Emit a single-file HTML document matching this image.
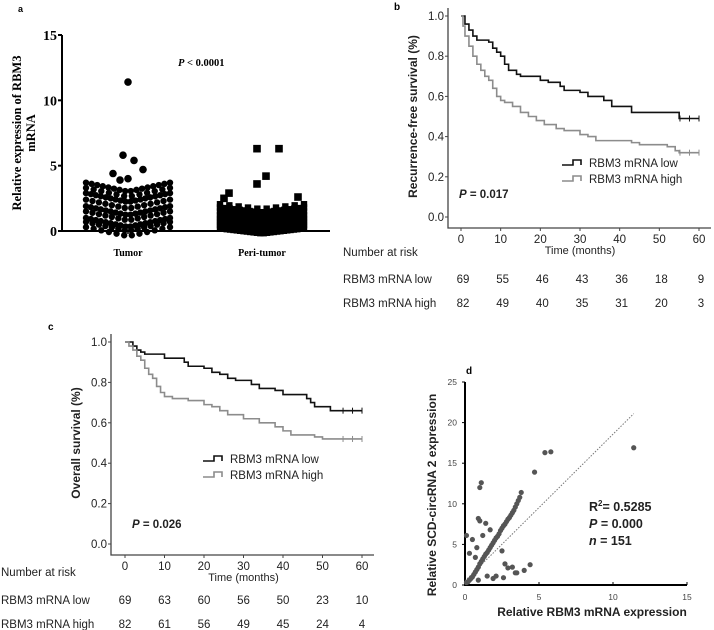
<!DOCTYPE html>
<html><head><meta charset="utf-8">
<style>
html,body{margin:0;padding:0;background:#fff;}
svg{display:block;font-family:"Liberation Sans",sans-serif;}
.sf{font-family:"Liberation Serif",serif;font-weight:bold;}
.b{font-weight:bold;}
</style></head>
<body>
<svg id="fig" width="714" height="630" viewBox="0 0 714 630">
<g id="pa"></g>
<g id="pb"></g>
<g id="pc"></g>
<g id="pd"></g>
</svg>
<script>
// ---------- Panel a data ----------
const aTicks=[0,5,10,15];
const aCategories=["Tumor","Peri-tumor"];
const tumorLevels=[0.3,0.7,1.0,1.5,1.9,2.4,2.9,3.3,3.7];
const tumorCounts=[12,14,18,14,18,14,18,12,16];
const tumorOutliers=[3.9,4.0,4.4,4.7,5.4,5.8,11.4];
const periLevels=[0.2,0.45,0.7,0.95,1.2,1.5,1.8,2.05];
const periCounts=[26,28,30,30,26,22,18,10];
const periOutliers=[2.5,2.6,2.9,3.6,4.2,6.3,6.3];
// ---------- Panel b data ----------
const bTimeTicks=[0,10,20,30,40,50,60];
const bSurvTicks=[0,0.2,0.4,0.6,0.8,1.0];
const rfsLowT=[0,1,2,3,4,7,8,9,10,11,12,14,15,20,22,25,26,30,32,36,38,43,55,60];
const rfsLowS=[1,0.96,0.93,0.9,0.88,0.87,0.84,0.82,0.8,0.76,0.73,0.71,0.7,0.68,0.67,0.65,0.63,0.62,0.6,0.58,0.55,0.52,0.49,0.49];
const rfsHighT=[0,0.5,1,2,3,4,5,6,7,8,9,10,11,13,15,17,19,21,24,26,30,32,34,43,45,52,54,55,60];
const rfsHighS=[1,0.95,0.9,0.85,0.8,0.76,0.73,0.7,0.68,0.64,0.6,0.58,0.57,0.55,0.52,0.5,0.48,0.46,0.44,0.43,0.41,0.4,0.38,0.37,0.36,0.35,0.33,0.32,0.32];
const bRiskLow=[69,55,46,43,36,18,9];
const bRiskHigh=[82,49,40,35,31,20,3];
// ---------- Panel c data ----------
const osLowT=[0,2,3,4,5,10,15,16,20,22,24,26,28,32,34,38,40,46,47,48,52,60];
const osLowS=[1,0.98,0.96,0.95,0.94,0.92,0.9,0.88,0.87,0.85,0.84,0.82,0.81,0.79,0.77,0.76,0.74,0.72,0.7,0.68,0.66,0.66];
const osHighT=[0,1,2,3,4,5,6,7,8,9,10,12,16,20,22,24,26,30,34,38,40,42,48,50,60];
const osHighS=[1,0.98,0.96,0.93,0.91,0.87,0.84,0.82,0.78,0.75,0.73,0.72,0.71,0.69,0.68,0.66,0.64,0.62,0.6,0.58,0.56,0.54,0.53,0.52,0.52];
const cRiskLow=[69,63,60,56,50,23,10];
const cRiskHigh=[82,61,56,49,45,24,4];
// ---------- Panel d data ----------
const dXTicks=[0,5,10,15];
const dYTicks=[0,5,10,15,20,25];
const scX=[0.1,0.2,0.3,0.4,0.5,0.6,0.7,0.8,0.9,1.0,1.1,1.2,1.3,1.4,1.5,1.6,1.7,1.8,1.9,2.0,2.1,2.2,2.3,2.4,2.5,2.6,2.7,2.8,2.9,3.0,3.1,3.2,3.3,3.4,3.5,3.6,3.7,3.8,
 0.1,0.3,0.5,0.7,0.8,0.9,1.0,1.2,1.5,1.0,1.1,1.4,0.9,1.7,1.9,2.1,2.5,2.7,2.9,3.2,3.4,3.5,4.0,4.4,2.6,4.7,5.4,5.8,11.4];
const scY=[0.3,0.4,0.6,0.8,1.0,1.3,1.6,1.9,2.2,2.6,2.9,3.2,3.5,3.8,4.0,4.3,4.6,4.9,5.2,5.5,5.8,6.0,6.3,6.7,7.0,7.3,7.5,7.8,8.1,8.3,8.6,8.9,9.2,9.6,10.0,10.4,10.8,11.4,
 6.1,3.9,5.6,3.4,4.6,8.2,7.9,6.1,1.1,12.0,12.6,7.6,0.6,6.8,0.8,1.1,4.2,2.6,2.1,2.2,1.5,1.5,1.8,2.5,0.9,13.9,16.3,16.4,16.9];
const fitX=[0,11.4];
const fitY=[0.5,21.1];

const NS="http://www.w3.org/2000/svg";
function mk(parent,tag,attrs,text){const e=document.createElementNS(NS,tag);for(const k in attrs)e.setAttribute(k,attrs[k]);if(text!==undefined)e.textContent=text;parent.appendChild(e);return e;}

// ================= Panel A =================
(function(){
 const g=document.getElementById('pa');
 const x0=62,x1=330,yb=231,yt=35;
 const ys=v=>yb-(v-0)/(15-0)*(yb-yt);
 const catX=[128,262];
 let t=mk(g,'text',{x:18,y:12,'font-size':9,class:'b'},'a');
 
 
 let ax=mk(g,'path',{d:`M${x0} ${yt}V${yb}H${x1}`,stroke:'#000','stroke-width':2,fill:'none'});
 
 
 aTicks.forEach(v=>{
  mk(g,'line',{x1:x0-4,x2:x0,y1:ys(v),y2:ys(v),stroke:'#000','stroke-width':2});
  const l=mk(g,'text',{x:x0-5,y:ys(v)+5,'text-anchor':'end','font-size':14,class:'sf'},v);
  
  
 });
 catX.forEach((cx,i)=>{
  mk(g,'line',{x1:cx,x2:cx,y1:yb,y2:yb+3,stroke:'#000','stroke-width':1.5});
  const l=mk(g,'text',{x:cx,y:256,'text-anchor':'middle','font-size':10,class:'sf'},aCategories[i]);
  
  
 });
 const yt1=mk(g,'text',{transform:'translate(21,133) rotate(-90)','text-anchor':'middle','font-size':12.5,class:'sf'},'Relative expression of RBM3');
 
 
 const yt2=mk(g,'text',{transform:'translate(35,133) rotate(-90)','text-anchor':'middle','font-size':12.5,class:'sf'},'mRNA');
 
 
 const p=mk(g,'text',{x:178,y:66,'font-size':10.5,class:'sf'});
 
 
 mk(p,'tspan',{'font-style':'italic'},'P');mk(p,'tspan',{},' < 0.0001');
 function swarm(cx,levels,counts,shape,dip){
  levels.forEach((lv,li)=>{
   const n=counts[li],half=(n-1)/2;
   for(let i=0;i<n;i++){
    const off=(i-half)/half;
    const px=cx+off*42;
    const py=ys(lv)+ (1-Math.abs(off))*dip;
    let m;
    if(shape==='c') m=mk(g,'circle',{cx:px,cy:py,r:3.2,fill:'#000'});
    else m=mk(g,'rect',{x:px-3.2,y:py-3.2,width:6.4,height:6.4,fill:'#000'});
    
    
   }
  });
 }
 swarm(catX[0],tumorLevels,tumorCounts,'c',9);
 swarm(catX[1],periLevels,periCounts,'s',5);
 const tox=[-8,0,-15,15,6,-5,0];
 tumorOutliers.forEach((v,i)=>{const m=mk(g,'circle',{cx:catX[0]+tox[i%tox.length],cy:ys(v),r:3.8,fill:'#000'});
  
  });
 const pox=[-38,36,-33,-5,4,-5,17];
 periOutliers.forEach((v,i)=>{const px=catX[1]+pox[i];const m=mk(g,'rect',{x:px-3.8,y:ys(v)-3.8,width:7.6,height:7.6,fill:'#000'});
  
  });
})();

// ================= KM helper =================
function km(gid,o){
 const g=document.getElementById(gid);
 const xs=t=>o.x0+t/60*(o.x60-o.x0);
 const ys=s=>o.y0-s*(o.y0-o.y1);
 let l=mk(g,'text',{x:o.lx,y:o.ly,'font-size':10,class:'b'},o.letter);
 
 
 const ax=mk(g,'path',{d:`M${o.ax} ${o.y1-8}V${o.axy}H${o.x60+12}`,stroke:'#444','stroke-width':1.3,fill:'none'});
 
 
 bSurvTicks.forEach(v=>{
  mk(g,'line',{x1:o.ax-3,x2:o.ax,y1:ys(v),y2:ys(v),stroke:'#444'});
  const t=mk(g,'text',{x:o.ax-4,y:ys(v)+4,'text-anchor':'end','font-size':11.5,fill:'#222'},v.toFixed(1));
  
  
 });
 bTimeTicks.forEach(v=>{
  mk(g,'line',{x1:xs(v),x2:xs(v),y1:o.axy,y2:o.axy+3,stroke:'#444'});
  const t=mk(g,'text',{x:xs(v),y:o.axy+15,'text-anchor':'middle','font-size':11.5,fill:'#222'},v);
  
  
 });
 const xt=mk(g,'text',{x:xs(30),y:o.axy+26,'text-anchor':'middle','font-size':11,fill:'#222'},'Time (months)');
 
 
 const yt=mk(g,'text',{transform:`translate(${o.ax-31},${(o.y0+o.y1)/2}) rotate(-90)`,'text-anchor':'middle','font-size':12,class:'b',fill:'#222'},o.ytitle);
 
 
 function step(T,S,col,name){
  let d=`M${xs(T[0])} ${ys(S[0])}`;
  for(let i=1;i<T.length;i++){d+=`H${xs(T[i])}V${ys(S[i])}`;}
  const p=mk(g,'path',{d,stroke:col,'stroke-width':1.6,fill:'none'});
  
  
  const last=T.length-1;
  [0.92,0.96,1].forEach(f=>{const tx=T[last]*f;mk(g,'line',{x1:xs(tx),x2:xs(tx),y1:ys(S[last])-3,y2:ys(S[last])+3,stroke:col});});
 }
 step(o.lowT,o.lowS,'#111','curve-low');
 step(o.highT,o.highS,'#8c8c8c','curve-high');
 [['#111','RBM3 mRNA low',o.legY],['#8c8c8c','RBM3 mRNA high',o.legY+16]].forEach(([c,txt,y])=>{
  const lg=mk(g,'g',{});
  
  
  mk(lg,'path',{d:`M${o.legX} ${y+2}H${o.legX+11}V${y-3}H${o.legX+19}V${y+2}`,stroke:c,'stroke-width':1.6,fill:'none'});
  mk(lg,'text',{x:o.legX+27,y:y+4,'font-size':11.5,fill:'#222'},txt);
 });
 const p=mk(g,'text',{x:o.px,y:o.py,'font-size':11.5,class:'b',fill:'#222'});
 
 
 mk(p,'tspan',{'font-style':'italic'},'P');mk(p,'tspan',{},' = '+o.pval);
 const h=mk(g,'text',{x:o.rlx,y:o.rY0,'font-size':11.5,fill:'#222'},'Number at risk');
 
 
 [['RBM3 mRNA low',o.riskLow,o.rY1],['RBM3 mRNA high',o.riskHigh,o.rY2]].forEach(([lab,arr,y])=>{
  const r=mk(g,'text',{x:o.rlx,y,'font-size':11.5,fill:'#222'},lab);
  
  
  arr.forEach((n,i)=>{const t=mk(g,'text',{x:xs(bTimeTicks[i])+o.rOff,y,'text-anchor':'middle','font-size':11.5,fill:'#222'},n);
   
   });
 });
}
km('pb',{letter:'b',lx:394,ly:10,ax:448,axy:228,x0:461,x60:699,y0:217,y1:16,ytitle:'Recurrence-free survival (%)',
 lowT:rfsLowT,lowS:rfsLowS,highT:rfsHighT,highS:rfsHighS,legX:562,legY:163,px:459,py:198,pval:'0.017',
 rlx:343,rY0:256,rY1:283,rY2:307,riskLow:bRiskLow,riskHigh:bRiskHigh,rOff:2});
km('pc',{letter:'c',lx:48,ly:330,ax:111,axy:555,x0:125,x60:362,y0:544,y1:342,ytitle:'Overall survival  (%)',
 lowT:osLowT,lowS:osLowS,highT:osHighT,highS:osHighS,legX:203,legY:459,px:132,py:528,pval:'0.026',
 rlx:1,rY0:576,rY1:604,rY2:628,riskLow:cRiskLow,riskHigh:cRiskHigh,rOff:0});

// ================= Panel D =================
(function(){
 const g=document.getElementById('pd');
 const x0=465,x15=687,y0=585,y25=382;
 const xs=v=>x0+v/15*(x15-x0);
 const ys=v=>y0-v/25*(y0-y25);
 let l=mk(g,'text',{x:466,y:374,'font-size':10,class:'b'},'d');
 
 
 const ax=mk(g,'path',{d:`M${x0} ${y25}V${y0}H${x15}`,stroke:'#000','stroke-width':2,fill:'none'});
 
 
 dYTicks.forEach(v=>{mk(g,'line',{x1:x0-3,x2:x0,y1:ys(v),y2:ys(v),stroke:'#000'});
  const t=mk(g,'text',{x:x0-8,y:ys(v)+3,'text-anchor':'end','font-size':8.5,fill:'#444'},v);
  
  });
 dXTicks.forEach(v=>{mk(g,'line',{x1:xs(v),x2:xs(v),y1:y0,y2:y0-3,stroke:'#000'});
  const t=mk(g,'text',{x:xs(v),y:600,'text-anchor':'middle','font-size':8.5,fill:'#444'},v);
  
  });
 const fl=mk(g,'line',{x1:xs(fitX[0]),y1:ys(fitY[0]),x2:xs(fitX[1]),y2:ys(fitY[1]),stroke:'#777','stroke-width':1,'stroke-dasharray':'1.5,1.5'});
 
 
 scX.forEach((v,i)=>{const c=mk(g,'circle',{cx:xs(v),cy:ys(scY[i]),r:2.6,fill:'#555'});
  
  });
 const xt=mk(g,'text',{x:592,y:616,'text-anchor':'middle','font-size':12,class:'b',fill:'#222'},'Relative RBM3 mRNA expression');
 
 
 const yt=mk(g,'text',{transform:'translate(436,495) rotate(-90)','text-anchor':'middle','font-size':12,class:'b',fill:'#222'},'Relative SCD-circRNA  2 expression');
 
 
 const r=mk(g,'text',{x:589,y:511,'font-size':12.5,class:'b',fill:'#222'});
 
 
 mk(r,'tspan',{},'R');mk(r,'tspan',{dy:-5,'font-size':8},'2');mk(r,'tspan',{dy:5},'= 0.5285');
 const p=mk(g,'text',{x:589,y:528,'font-size':12.5,class:'b',fill:'#222'});
 
 
 mk(p,'tspan',{'font-style':'italic'},'P');mk(p,'tspan',{},' = 0.000');
 const n=mk(g,'text',{x:589,y:545,'font-size':12.5,class:'b',fill:'#222'});
 
 
 mk(n,'tspan',{'font-style':'italic'},'n');mk(n,'tspan',{},' = 151');
})();
</script>
</body></html>
